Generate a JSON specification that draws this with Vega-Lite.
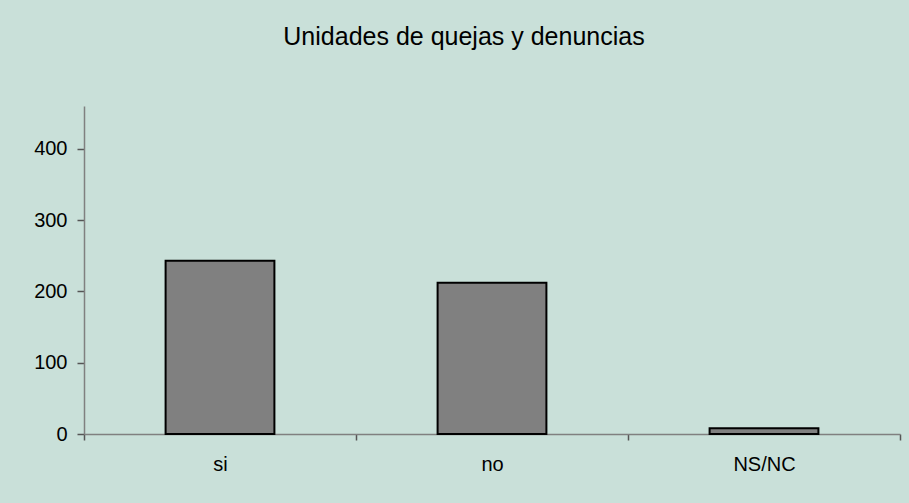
{
  "$schema": "https://vega.github.io/schema/vega-lite/v6.json",
  "width": 816,
  "height": 328,
  "autosize": {"type": "none"},
  "padding": {"left": 84, "top": 106, "right": 9, "bottom": 69},
  "background": "#c9e0d9",
  "title": {
    "text": "Unidades de quejas y denuncias",
    "font": "Liberation Sans",
    "fontSize": 25,
    "fontWeight": "normal",
    "color": "#000000",
    "anchor": "middle",
    "baseline": "alphabetic",
    "dx": -28,
    "offset": 36
  },
  "data": {
    "values": [
      {"respuesta": "si", "unidades": 243},
      {"respuesta": "no", "unidades": 212},
      {"respuesta": "NS/NC", "unidades": 8}
    ]
  },
  "mark": {
    "type": "bar",
    "fill": "#808080",
    "stroke": "#000000",
    "strokeWidth": 2,
    "width": {"band": 0.4}
  },
  "encoding": {
    "x": {
      "field": "respuesta",
      "type": "nominal",
      "sort": null,
      "scale": {"paddingInner": 0, "paddingOuter": 0},
      "axis": {
        "title": null,
        "labelAngle": 0,
        "tickBand": "extent",
        "domainColor": "#808080",
        "domainWidth": 1.5,
        "tickColor": "#555555",
        "tickWidth": 1.5,
        "tickSize": 6,
        "labelFont": "Liberation Sans",
        "labelFontSize": 20,
        "labelColor": "#000000",
        "labelPadding": 14
      }
    },
    "y": {
      "field": "unidades",
      "type": "quantitative",
      "scale": {"domain": [0, 460], "nice": false},
      "axis": {
        "title": null,
        "values": [0, 100, 200, 300, 400],
        "grid": false,
        "domainColor": "#808080",
        "domainWidth": 1.5,
        "tickColor": "#555555",
        "tickWidth": 1.5,
        "tickSize": 7,
        "labelFont": "Liberation Sans",
        "labelFontSize": 20,
        "labelColor": "#000000",
        "labelPadding": 10
      }
    }
  },
  "config": {"view": {"stroke": null}}
}
